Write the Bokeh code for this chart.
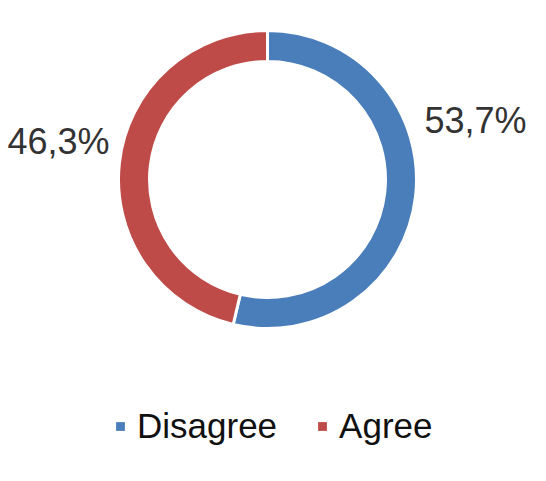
import numpy as np
from bokeh.plotting import figure
from bokeh.models import Range1d, ColumnDataSource, Legend, LegendItem
from bokeh.core.properties import value
from bokeh.embed import file_html
from bokeh.resources import INLINE

# ---- data ----
categories = ["Disagree", "Agree"]
shares = [53.7, 46.3]
label_texts = ["53,7%", "46,3%"]
colors = ["#4a7ebb", "#be4b48"]

W, H = 530, 465
p = figure(width=W, height=H, output_backend="svg", toolbar_location=None,
           x_range=Range1d(0, W), y_range=Range1d(0, H), min_border=0)
p.axis.visible = False
p.grid.visible = False
p.outline_line_color = None
p.background_fill_color = "white"
p.border_fill_color = "white"

# donut geometry (screen-like units)
cx, cy = 267, 286
r_in, r_out = 118, 149

frac = np.array(shares) / np.sum(shares)
# clockwise from 12 o'clock
ends = np.pi / 2 - np.concatenate([[0], np.cumsum(frac)[:-1]]) * 2 * np.pi
starts = ends - frac * 2 * np.pi
src = ColumnDataSource(dict(start=starts, end=ends, color=colors, cat=categories))
p.annular_wedge(x=cx, y=cy, inner_radius=r_in, outer_radius=r_out,
                start_angle="start", end_angle="end", fill_color="color",
                line_color="white", line_width=3, source=src)

# data labels
lab_src = ColumnDataSource(dict(x=[475, 58], y=[345, 324], t=label_texts))
p.text(x="x", y="y", text="t", source=lab_src, text_font=value("Liberation Sans"),
       text_font_size="36px", text_color="#333333", text_align="center",
       text_baseline="middle")

# legend proxies
items = []
for cat, col in zip(categories, colors):
    r = p.scatter(x=[-100], y=[-100], marker="square", size=9, fill_color=col,
                  line_color=None)
    items.append(LegendItem(label=cat, renderers=[r]))

legend = Legend(items=items, orientation="horizontal", location=(109, 19),
                label_text_font="Liberation Sans", label_text_font_size="35px",
                label_text_color="#111111", glyph_width=22, glyph_height=22,
                label_standoff=6, spacing=34, padding=0, margin=0,
                border_line_color=None, background_fill_alpha=0)
p.add_layout(legend, "center")

open("out.html", "w").write(file_html(p, INLINE))
